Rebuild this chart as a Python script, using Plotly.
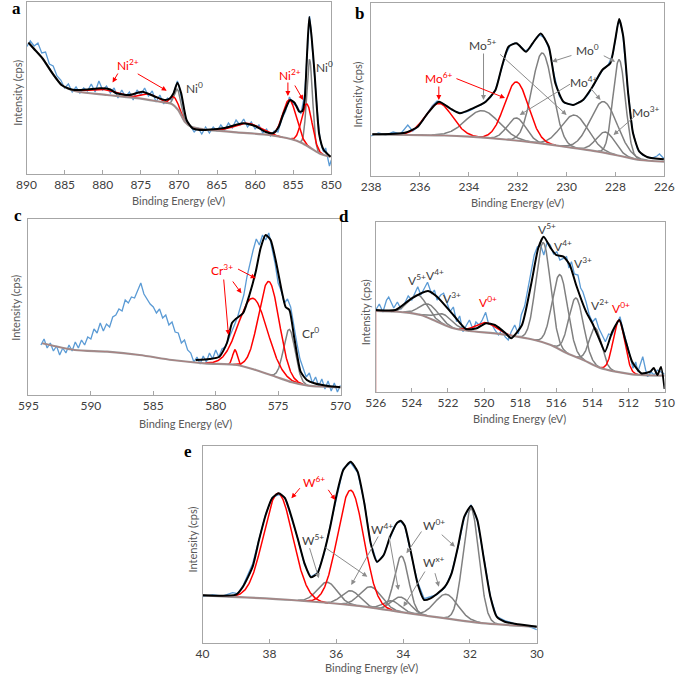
import numpy as np
import plotly.graph_objects as go

W, H = 685, 675
FONT = "Lato"
BLUE = "#5b9bd5"
RED = "#ff0000"
GRAY = "#808080"
TXT = "#404040"
BGC = "#9a9a9a"

# ---------------- Panel a : Ni 2p ----------------
a_blue_E = [890.0, 889.5, 889.0, 888.5, 888.0, 887.5, 887.0, 886.5, 886.0, 885.5, 885.0, 884.5, 884.0, 883.5, 883.0,
            882.5, 882.0, 881.5, 881.0, 880.5, 880.0, 879.5, 879.0, 878.5, 878.0, 877.5, 877.0, 876.5, 876.0, 875.5,
            875.0, 874.5, 874.0, 873.5, 873.0, 872.5, 872.0, 871.5, 871.0, 870.5, 870.2, 870.0, 869.5, 869.0, 868.5,
            868.0, 867.5, 867.0, 866.5, 866.0, 865.5, 865.0, 864.5, 864.0, 863.5, 863.0, 862.5, 862.0, 861.5, 861.0,
            860.5, 860.0, 859.5, 859.0, 858.5, 858.0, 857.5, 857.0, 856.5, 856.0, 855.5, 855.0, 854.5, 854.0, 853.5,
            853.25, 853.0, 852.85, 852.7, 852.5, 852.25, 852.0, 851.75, 851.5, 851.25, 851.0, 850.75, 850.5, 850.25, 850.0]
a_blue_I = [127, 133, 128, 131, 121, 122, 110, 108, 98, 94, 86, 90, 82, 87, 81,
            86, 83, 90, 82, 93, 84, 88, 81, 86, 76, 84, 77, 82, 74, 84,
            79, 86, 78, 83, 72, 79, 70, 76, 74, 86, 93, 88, 70, 52, 48,
            42, 46, 40, 47, 41, 47, 43, 49, 44, 51, 46, 54, 49, 55, 47,
            52, 45, 49, 41, 45, 38, 43, 42, 55, 63, 77, 70, 68, 60, 80,
            112, 150, 158, 146, 124, 100, 78, 55, 36, 27, 22, 26, 18, 8, 14]
a_env_E = [889.75, 889.0, 887.9, 886.6, 885.4, 884.5, 883.7, 882.0, 880.3, 879.0, 878.2, 876.5, 874.8, 873.1, 871.8,
           871.2, 870.7, 870.2, 869.7, 869.0, 868.2, 866.8, 864.0, 861.6, 860.0, 858.6, 857.6, 856.9, 856.3, 855.4,
           854.8, 854.2, 853.8, 853.5, 853.2, 852.9, 852.6, 852.2, 851.6, 851.0, 850.1]
a_env_I = [131.3, 125, 115.7, 100.7, 89, 85.5, 84, 84.5, 85.7, 84.5, 80.7, 79, 82.3, 77.3, 74,
           75.5, 80.7, 91.3, 80.7, 54, 45.7, 44, 46, 50.7, 48, 42, 41, 47.3, 60, 74,
           71, 62.3, 63, 74, 118, 157, 138, 100.7, 40, 24, 17.3]
a_bg_E = [889.75, 887.92, 886.65, 885.38, 883.67, 879.43, 875.18, 871.78, 870.93, 870.09, 869.23, 868.38, 866.69,
          862.44, 858.19, 855.22, 853.95, 852.67, 851.4, 850.12]
a_bg_I = [131.3, 115.7, 101.3, 89, 83, 79, 75.7, 71.3, 70, 64, 52.3, 47.3, 44.7, 41.7, 39, 34.7, 31.3, 25.7, 20, 17.3]
a_pk_center = [879.8, 874.0, 870.6, 870.2, 861.0, 855.5, 853.2, 852.85]
a_pk_height = [5, 6, 9, 20, 10, 39, 42, 88]
a_pk_fwhm = [4.0, 2.5, 1.2, 0.9, 4.0, 2.1, 1.6, 0.9]
a_pk_state = ["Ni2+", "Ni2+", "Ni2+", "Ni0", "Ni2+", "Ni2+", "Ni2+", "Ni0"]

# ---------------- Panel b : Mo 3d ----------------
b_blue_E = [238.0, 237.7, 237.4, 237.1, 236.8, 236.5, 236.3, 236.1, 235.9, 235.7, 235.5, 235.3, 235.1, 234.9, 234.7,
            234.5, 234.3, 234.1, 233.9, 233.7, 233.5, 233.3, 233.1, 232.9, 232.7, 232.5, 232.3, 232.1, 231.9, 231.7,
            231.5, 231.3, 231.1, 230.9, 230.7, 230.5, 230.3, 230.1, 229.9, 229.7, 229.5, 229.3, 229.1, 228.9, 228.7,
            228.5, 228.3, 228.1, 227.9, 227.8, 227.7, 227.5, 227.3, 227.1, 226.9, 226.7, 226.5, 226.3, 226.2, 226.0]
b_blue_I = [40, 43, 41, 44, 42, 51, 45, 49, 55, 63, 70, 75, 73, 70, 66,
            64, 63, 64, 66, 69, 71, 75, 79, 87, 105, 121, 131, 133, 130, 125,
            128, 136, 141, 138, 126, 100, 80, 73, 72, 71, 74, 76, 82, 90, 99,
            107, 111, 122, 152, 154, 142, 88, 45, 27, 21, 19, 18, 20, 22, 17]
b_env_E = [237.95, 236.62, 236.09, 235.69, 235.23, 234.77, 234.37, 233.84, 233.31, 232.91, 232.65, 232.38, 232.05,
           231.66, 231.39, 231.06, 230.73, 230.46, 230.13, 229.73, 229.33, 228.94, 228.54, 228.21, 228.01, 227.85,
           227.68, 227.48, 227.28, 227.02, 226.68, 226.02]
b_env_I = [41.7, 43.3, 49.3, 62.7, 74.3, 67.7, 62.7, 67.7, 74.3, 86, 109.3, 129.3, 132.7,
           124.3, 132.7, 142.5, 129.3, 92.7, 74.3, 71, 76, 89.3, 106, 112.7, 136, 157,
           139.3, 82.7, 42.7, 24.3, 18.7, 16.7]
b_bg_E = [237.95, 236.5, 235.0, 233.97, 232.5, 231.3, 230.0, 229.5, 228.7, 228.0, 227.35, 227.0, 226.0]
b_bg_I = [41.7, 41, 40.5, 39.3, 36.5, 33.3, 29, 27.3, 24.3, 21, 17.7, 16, 14.3]
b_pk_center = [235.23, 232.05, 233.44, 232.05, 230.99, 229.67, 228.48, 228.4, 227.85]
b_pk_height = [32, 58.7, 27, 22.7, 90.7, 33, 51, 21, 96]
b_pk_fwhm = [1.3, 1.15, 1.6, 0.9, 1.0, 1.3, 1.3, 0.9, 0.6]
b_pk_state = ["Mo6+", "Mo6+", "Mo5+", "Mo4+", "Mo0", "Mo5+", "Mo4+", "Mo3+", "Mo0"]

# ---------------- Panel c : Cr 2p ----------------
c_blue_start, c_blue_step = 594.0, -0.25
c_blue_I = [50, 56, 47, 52, 44, 49, 40, 47, 42, 50,
            44, 53, 47, 55, 50, 58, 56, 66, 62, 72,
            64, 71, 68, 78, 80, 86, 84, 95, 92, 98,
            97, 105, 112, 101, 96, 91, 88, 82, 86, 77,
            80, 70, 73, 63, 62, 52, 55, 45, 42, 33,
            38, 31, 39, 33, 42, 36, 45, 38, 46, 48,
            55, 62, 70, 78, 88, 100, 118, 132, 145, 156,
            150, 160, 155, 162, 146, 132, 112, 104, 92, 96,
            88, 68, 52, 36, 26, 18, 22, 12, 18, 9,
            16, 6, 14, 4, 12, 3, 10]
c_env_E = [581.6, 580.5, 579.7, 579.1, 578.7, 578.4, 577.8, 577.3, 576.8, 576.4, 576.0, 575.6, 575.2, 574.7, 574.4,
           574.1, 573.7, 573.2, 572.7, 572.1, 571.0, 570.0]
c_env_I = [35, 36, 38.3, 52, 72, 76, 82, 100, 123, 147, 160, 155, 135, 103.3, 88,
           85, 56.7, 23.3, 15, 11.7, 9, 7.7]
c_bg_E = [593.9, 591.3, 588.7, 586.1, 583.5, 580.9, 578.3, 576.8, 575.2, 573.9, 572.6, 570.0]
c_bg_I = [51.7, 45, 43.3, 40, 35, 31.7, 30, 25, 18.3, 12.7, 9.3, 7.7]
c_pk_center = [578.46, 577.0, 575.74, 574.1]
c_pk_height = [15, 71, 93, 52]
c_pk_fwhm = [0.45, 2.7, 1.95, 1.1]
c_pk_state = ["Cr3+", "Cr3+", "Cr3+", "Cr0"]

# ---------------- Panel d : V 2p ----------------
d_blue_E = [526.0, 525.8, 525.6, 525.4, 525.28, 525.0, 524.8, 524.6, 524.39, 524.2,
            524.0, 523.8, 523.67, 523.5, 523.3, 523.13, 522.9, 522.75, 522.6, 522.4,
            522.24, 522.05, 521.88, 521.7, 521.52, 521.35, 521.17, 521.0, 520.81, 520.6,
            520.45, 520.27, 520.1, 519.91, 519.75, 519.55, 519.4, 519.2, 519.0, 518.84,
            518.66, 518.5, 518.3, 518.1, 517.94, 517.75, 517.58, 517.4, 517.22, 517.05,
            516.87, 516.69, 516.5, 516.33, 516.15, 515.97, 515.8, 515.61, 515.43, 515.3,
            515.16, 515.0, 514.8, 514.65, 514.53, 514.35, 514.17, 514.0, 513.82, 513.65,
            513.46, 513.28, 513.1, 512.92, 512.7, 512.47, 512.3, 512.1, 512.02, 511.75,
            511.6, 511.48, 511.35, 511.21, 511.05, 510.94, 510.75, 510.58, 510.4, 510.23, 510.0]
d_blue_I = [82, 88, 80, 92, 95, 84, 90, 83, 88.7, 96,
            92, 100, 105.3, 97, 104, 109.7, 98, 102, 92, 97,
            98.7, 88, 80.3, 85, 70.3, 76, 60.3, 66, 72, 62,
            70, 67, 72, 79.7, 68, 67, 62, 57, 62, 55.3,
            52, 60, 67, 58, 77, 86, 103.7, 120, 137, 145,
            147, 137, 150, 147, 138, 140.3, 132, 133.7, 135.3, 124,
            130.3, 118, 117, 104, 100.3, 90, 77, 70, 73.7, 64,
            57, 50.3, 58, 57, 66, 75.3, 62, 50, 43.7, 23.7,
            30, 20.3, 28, 35.3, 22, 15.3, 20, 17, 22, 20.3, 18]
d_env_E = [526.0, 524.9, 524.0, 523.1, 522.6, 521.7, 521.0, 520.4, 519.9, 519.4, 518.8, 518.5, 517.9, 517.4, 517.0,
           516.7, 516.3, 516.0, 515.6, 515.25, 514.9, 514.35, 514.0, 513.6, 513.3, 512.9, 512.5, 512.2, 511.8, 511.3,
           510.8, 510.6, 510.4, 510.2, 510.0]
d_env_I = [82, 82, 93.7, 101, 95.3, 77, 63, 63.7, 68.7, 67, 58.7, 53.7, 67, 107, 143.7,
           155.3, 143.7, 137, 135.3, 127, 107, 80.3, 68.7, 52, 40.3, 60.3, 72, 53.7, 30.3, 18.7,
           20.3, 24, 17, 25, 3]
d_bg_E = [526.0, 524.39, 523.5, 522.6, 521.7, 520.8, 519.0, 517.2, 516.3, 515.4, 514.5, 513.6, 512.7, 511.8, 510.0]
d_bg_I = [81, 79.7, 77, 70.3, 63.7, 61, 57.7, 52, 47, 38.7, 32, 24.3, 20.3, 17.7, 16.3]
d_pk_center = [523.67, 523.04, 522.24, 519.9, 516.72, 515.79, 514.9, 513.83, 512.53]
d_pk_height = [19.5, 14, 10, 10, 100, 75, 59, 37.7, 52]
d_pk_fwhm = [1.2, 1.2, 1.2, 1.3, 0.95, 1.0, 0.95, 0.8, 0.75]
d_pk_state = ["V5+", "V4+", "V3+", "V0+", "V5+", "V4+", "V3+", "V2+", "V0+"]

# ---------------- Panel e : W 4f ----------------
e_blue_E = [40.0, 39.7, 39.4, 39.1, 38.95, 38.79, 38.5, 38.31, 38.11, 37.92, 37.72, 37.53, 37.34, 37.14, 36.95,
            36.76, 36.56, 36.37, 36.18, 35.98, 35.79, 35.57, 35.36, 35.16, 34.97, 34.78, 34.58, 34.39, 34.19, 34.07,
            33.95, 33.76, 33.57, 33.37, 33.18, 32.99, 32.75, 32.55, 32.36, 32.17, 31.97, 31.78, 31.58, 31.39, 31.2,
            30.96, 30.75, 30.57, 30.3, 30.0]
e_blue_I = [46, 48, 46.5, 50, 49, 57, 79, 102, 129, 145, 148, 145, 125, 103, 78,
            66, 70, 88, 117, 148, 174, 180, 170, 140, 100, 80, 88, 105, 120, 121,
            117, 88, 61, 44, 46, 48, 55, 70, 95, 125, 138, 122, 84, 46, 26,
            22, 20, 17, 17, 13]
e_env_E = [40.0, 39.0, 38.79, 38.5, 38.31, 38.11, 37.92, 37.72, 37.53, 37.34, 37.14, 36.95, 36.76, 36.56, 36.37,
           36.18, 35.98, 35.79, 35.57, 35.36, 35.16, 34.97, 34.78, 34.58, 34.39, 34.19, 34.07, 33.95, 33.76, 33.57,
           33.37, 33.18, 32.99, 32.75, 32.55, 32.36, 32.17, 31.97, 31.78, 31.58, 31.39, 31.2, 30.96, 30.57, 30.0]
e_env_I = [47.5, 48, 56, 76, 102.7, 127.7, 144.4, 149.4, 144.4, 126, 102.7, 79.4, 65.4, 69.4, 89.4,
           116, 149.4, 172.7, 181, 171, 139.4, 99.4, 81, 87.7, 106, 119.4, 122, 116.7, 89.4, 59.4,
           42.7, 44.4, 48.7, 56, 69.4, 96, 126, 136.7, 122.7, 82.7, 46, 26, 21, 18.4, 16]
e_bg_E = [40.0, 37.34, 35.4, 33.47, 31.53, 30.0]
e_bg_I = [47.3, 42.7, 37, 27.7, 19.3, 16]
e_pk_center = [37.74, 35.57, 36.27, 34.97, 35.57, 34.07, 34.34, 32.71, 34.05, 31.97]
e_pk_height = [106, 115, 21, 21, 14.5, 15, 10, 24, 56, 113]
e_pk_fwhm = [1.02, 0.92, 0.7, 0.75, 0.65, 0.65, 0.6, 0.8, 0.5, 0.55]
e_pk_state = ["W6+", "W6+", "W5+", "W5+", "W4+", "W4+", "Wx+", "Wx+", "W0+", "W0+"]

RED_STATES = {"Ni2+", "Mo6+", "Cr3+", "V0+", "W6+"}

# ---------------- layout geometry (pixels) ----------------
def px(x):
    return x / W

def py(y):
    return 1 - y / H

panels = [
    dict(n="", rng=[890, 850], dt=5, yr=[0, 172], box=(17, 2, 331, 174),
         blue=(a_blue_E, a_blue_I), env=(a_env_E, a_env_I), bg=(a_bg_E, a_bg_I),
         pk=(a_pk_center, a_pk_height, a_pk_fwhm, a_pk_state)),
    dict(n="2", rng=[238, 226], dt=2, yr=[0, 173], box=(372, 3, 674, 176),
         blue=(b_blue_E, b_blue_I), env=(b_env_E, b_env_I), bg=(b_bg_E, b_bg_I),
         pk=(b_pk_center, b_pk_height, b_pk_fwhm, b_pk_state)),
    dict(n="3", rng=[595, 570], dt=5, yr=[0, 176], box=(19, 219, 340.5, 395),
         blue=([c_blue_start + i * c_blue_step for i in range(len(c_blue_I))], c_blue_I),
         env=(c_env_E, c_env_I), bg=(c_bg_E, c_bg_I),
         pk=(c_pk_center, c_pk_height, c_pk_fwhm, c_pk_state)),
    dict(n="4", rng=[526, 510], dt=2, yr=[0, 170], box=(376.7, 222, 674.3, 392),
         blue=(d_blue_E, d_blue_I), env=(d_env_E, d_env_I), bg=(d_bg_E, d_bg_I),
         pk=(d_pk_center, d_pk_height, d_pk_fwhm, d_pk_state)),
    dict(n="5", rng=[40, 30], dt=2, yr=[0, 196.7], box=(198.3, 446, 542.7, 642.7),
         blue=(e_blue_E, e_blue_I), env=(e_env_E, e_env_I), bg=(e_bg_E, e_bg_I),
         pk=(e_pk_center, e_pk_height, e_pk_fwhm, e_pk_state)),
]

fig = go.Figure()
layout = dict(width=W, height=H, margin=dict(l=0, r=0, t=0, b=0), plot_bgcolor="white",
              paper_bgcolor="white", showlegend=False, font=dict(family=FONT, color=TXT))

for p in panels:
    xa, ya = "x" + p["n"], "y" + p["n"]
    x0, y0, x1, y1 = p["box"]
    layout["xaxis" + p["n"]] = dict(domain=[px(x0), px(x1)], range=p["rng"], dtick=p["dt"], anchor=ya,
                                    showgrid=False, zeroline=False, showline=True, linecolor="#a6a6a6",
                                    linewidth=1, mirror=True, ticks="inside", ticklen=4, tickcolor="#a6a6a6",
                                    tickfont=dict(family=FONT, size=12, color=TXT))
    layout["yaxis" + p["n"]] = dict(domain=[py(y1), py(y0)], range=p["yr"], anchor=xa, showgrid=False,
                                    zeroline=False, showline=True, linecolor="#a6a6a6", linewidth=1,
                                    mirror=True, showticklabels=False, ticks="")
    bE, bI = p["blue"]
    fig.add_trace(go.Scatter(x=bE, y=bI, mode="lines", line=dict(color=BLUE, width=1.3),
                             xaxis=xa, yaxis=ya, hoverinfo="skip"))
    gE, gI = p["bg"]
    lo, hi = min(gE), max(gE)
    grid = np.linspace(hi, lo, 900)
    bgv = np.interp(grid, gE[::-1], gI[::-1])
    cs, hs, ws, st = p["pk"]
    order = sorted(range(len(cs)), key=lambda k: st[k] in RED_STATES)
    for k in order:
        g = hs[k] * np.exp(-4 * np.log(2) * (grid - cs[k]) ** 2 / ws[k] ** 2)
        m = g > 0.25
        col = RED if st[k] in RED_STATES else GRAY
        fig.add_trace(go.Scatter(x=grid[m], y=(bgv + g)[m], mode="lines", line=dict(color=col, width=1.5),
                                 xaxis=xa, yaxis=ya, hoverinfo="skip"))
    fig.add_trace(go.Scatter(x=gE, y=gI, mode="lines", line=dict(color=BGC, width=2.2, shape="spline", smoothing=0.8),
                             xaxis=xa, yaxis=ya, hoverinfo="skip"))
    fig.add_trace(go.Scatter(x=gE, y=gI, mode="lines", line=dict(color="#c06060", width=0.8, shape="spline", smoothing=0.8),
                             opacity=0.6, xaxis=xa, yaxis=ya, hoverinfo="skip"))
    eE, eI = p["env"]
    fig.add_trace(go.Scatter(x=eE, y=eI, mode="lines", line=dict(color="black", width=2, shape="spline", smoothing=0.55),
                             xaxis=xa, yaxis=ya, hoverinfo="skip"))

# left edge of the V background
fig.add_trace(go.Scatter(x=[d_bg_E[0], d_bg_E[0]], y=[0, d_bg_I[0]], mode="lines",
                         line=dict(color="#c06060", width=1.2), xaxis="x4", yaxis="y4", hoverinfo="skip"))

ann = []

# axis titles and panel letters
xt = [(174, 201), (523, 202), (181, 423), (525, 418), (372.5, 667)]
yt = [(7, 93), (358, 95), (5, 308), (366, 312), (187, 540)]
letters = [("a", 7, 9), ("b", 360, 13), ("c", 8, 215), ("d", 344, 216), ("e", 183, 451)]
for (x, y) in xt:
    ann.append(dict(x=px(x), y=py(y), xref="paper", yref="paper", text="Binding Energy (eV)", showarrow=False,
                    font=dict(family=FONT, size=11, color="#595959"), xanchor="center", yanchor="middle"))
for (x, y) in yt:
    ann.append(dict(x=px(x), y=py(y), xref="paper", yref="paper", text="Intensity (cps)", showarrow=False,
                    textangle=-90, font=dict(family=FONT, size=11, color="#595959"), xanchor="center",
                    yanchor="middle"))
for (t, x, y) in letters:
    ann.append(dict(x=px(x), y=py(y), xref="paper", yref="paper", text="<b>%s</b>" % t, showarrow=False,
                    font=dict(family="Liberation Serif", size=17, color="black"), xanchor="center",
                    yanchor="middle"))

DG = "#404040"
labels = {
    "": [("Ni<sup>2+</sup>", 876.7, 109, RED), ("Ni<sup>0</sup>", 867.9, 86, DG),
         ("Ni<sup>2+</sup>", 855.4, 99, RED), ("Ni<sup>0</sup>", 850.9, 107, DG)],
    "2": [("Mo<sup>5+</sup>", 233.44, 131, DG), ("Mo<sup>6+</sup>", 235.23, 98, RED),
          ("Mo<sup>0</sup>", 229.14, 126, DG), ("Mo<sup>4+</sup>", 229.27, 94, DG),
          ("Mo<sup>3+</sup>", 226.76, 64, DG)],
    "3": [("Cr<sup>3+</sup>", 579.5, 125, RED), ("Cr<sup>0</sup>", 572.4, 62, DG)],
    "4": [("V<sup>5+</sup>", 523.73, 112, DG), ("V<sup>4+</sup>", 522.69, 117, DG),
          ("V<sup>3+</sup>", 521.8, 94, DG), ("V<sup>0+</sup>", 519.77, 89.7, RED),
          ("V<sup>5+</sup>", 516.5, 163, DG), ("V<sup>4+</sup>", 515.6, 146.3, DG),
          ("V<sup>3+</sup>", 514.5, 128.7, DG), ("V<sup>2+</sup>", 513.6, 87, DG),
          ("V<sup>0+</sup>", 512.4, 83.7, RED)],
    "5": [("W<sup>6+</sup>", 36.66, 161, RED), ("W<sup>5+</sup>", 36.71, 103, DG),
          ("W<sup>4+</sup>", 34.63, 114, DG), ("W<sup>0+</sup>", 33.08, 118, DG),
          ("W<sup>x+</sup>", 33.08, 81, DG)],
}
AG = "#8c8c8c"
arrows = {
    "": [(877.9, 102, 878.7, 91.5, RED), (875.6, 101, 871.6, 83.3, RED),
         (855.7, 93, 855.7, 78, RED), (854.9, 90, 853.7, 74, RED)],
    "2": [(233.4, 124, 233.4, 76, AG), (232.78, 123, 230.0, 61, AG),
          (235.23, 91, 235.23, 76, RED), (234.57, 98, 232.52, 78, RED),
          (229.74, 121, 230.6, 114.3, AG), (228.54, 121, 228.01, 114.3, AG),
          (229.8, 92.7, 231.92, 61, AG), (229.07, 89.3, 228.61, 76, AG),
          (227.15, 61, 228.08, 41, AG)],
    "3": [(579.37, 117, 578.98, 60, RED), (578.72, 115, 577.94, 101.7, RED),
          (578.33, 126.7, 576.8, 116.7, RED)],
    "4": [],
    "5": [(37.05, 156, 37.34, 144.4, RED), (36.27, 154.4, 36.03, 142.7, RED),
          (36.81, 96, 36.52, 64.4, AG), (36.37, 96, 35.07, 66, AG),
          (34.72, 107.7, 35.55, 57.7, AG), (34.43, 107.7, 34.14, 52.7, AG),
          (33.42, 112.7, 33.9, 89.4, AG), (32.89, 109.4, 32.45, 96, AG),
          (33.32, 72.7, 33.99, 36, AG), (33.06, 71, 32.93, 56, AG)],
}
for n, lst in labels.items():
    for (t, x, y, c) in lst:
        ann.append(dict(x=x, y=y, xref="x" + n, yref="y" + n, text=t, showarrow=False,
                        font=dict(family=FONT, size=12, color=c), xanchor="center", yanchor="middle"))
for n, lst in arrows.items():
    for (tx, ty, hx, hy, c) in lst:
        ann.append(dict(x=hx, y=hy, ax=tx, ay=ty, xref="x" + n, yref="y" + n, axref="x" + n, ayref="y" + n,
                        text="", showarrow=True, arrowhead=2, arrowsize=1, arrowwidth=1, arrowcolor=c))

layout["annotations"] = ann
fig.update_layout(**layout)
fig.write_html("out.html", config={"displayModeBar": False, "staticPlot": True},
               post_script="document.body.style.margin='0px';document.body.style.padding='0px';")
